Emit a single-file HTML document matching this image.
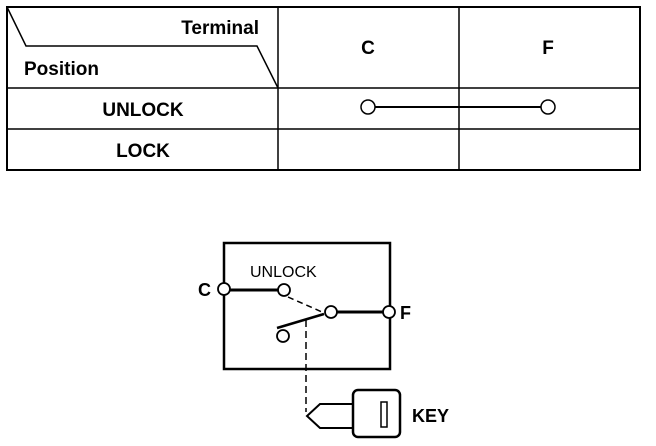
<!DOCTYPE html>
<html><head><meta charset="utf-8"><style>
html,body{margin:0;padding:0;background:#fff;width:656px;height:446px;overflow:hidden}
svg text{font-family:"Liberation Sans",Arial,sans-serif;fill:#000}
</style></head><body>
<svg width="656" height="446" viewBox="0 0 656 446" xmlns="http://www.w3.org/2000/svg">
<g stroke="#000" fill="none">
<rect x="7" y="7" width="633" height="163" stroke-width="2"/>
<line x1="7" y1="88" x2="640" y2="88" stroke-width="1.5"/>
<line x1="7" y1="129" x2="640" y2="129" stroke-width="1.5"/>
<line x1="278" y1="7" x2="278" y2="170" stroke-width="1.5"/>
<line x1="459" y1="7" x2="459" y2="170" stroke-width="1.5"/>
<polyline points="7,7 26,46 257,46 278,88" stroke-width="1.5"/>
<line x1="375" y1="107" x2="541" y2="107" stroke-width="2"/>
<circle cx="368" cy="107" r="7" fill="#fff" stroke-width="1.5"/>
<circle cx="548" cy="107" r="7" fill="#fff" stroke-width="1.5"/>
</g>
<g font-weight="bold" font-size="19">
<text x="259" y="34" text-anchor="end">Terminal</text>
<text x="24" y="75">Position</text>
<text x="368" y="54" text-anchor="middle">C</text>
<text x="548" y="54" text-anchor="middle">F</text>
<text x="143" y="116" text-anchor="middle">UNLOCK</text>
<text x="143" y="157" text-anchor="middle">LOCK</text>
</g>

<g stroke="#000" fill="none">
<rect x="224" y="243" width="166" height="126" stroke-width="2.5"/>
<line x1="230" y1="290" x2="278" y2="290" stroke-width="3"/>
<line x1="336" y1="312" x2="383" y2="312" stroke-width="3"/>
<line x1="277" y1="328" x2="324" y2="314" stroke-width="2.5"/>
<line x1="288" y1="297" x2="322" y2="312" stroke-width="1.5" stroke-dasharray="6,4"/>
<line x1="306" y1="320" x2="306" y2="412" stroke-width="1.5" stroke-dasharray="7,4"/>
<circle cx="224" cy="289" r="6" fill="#fff" stroke-width="1.8"/>
<circle cx="284" cy="290" r="6" fill="#fff" stroke-width="1.8"/>
<circle cx="331" cy="312" r="6" fill="#fff" stroke-width="1.8"/>
<circle cx="389" cy="312" r="6" fill="#fff" stroke-width="1.8"/>
<circle cx="283" cy="336" r="6" fill="#fff" stroke-width="1.8"/>
<polyline points="353,404 320,404 307,416 320,428 353,428" stroke-width="2"/>
<rect x="353" y="390" width="47" height="47" rx="5" fill="#fff" stroke-width="2.5"/>
<rect x="381" y="402" width="6" height="25" stroke-width="1.5"/>
</g>
<text x="250" y="277" font-size="16">UNLOCK</text>
<text x="198" y="296" font-size="18" font-weight="bold">C</text>
<text x="400" y="319" font-size="18" font-weight="bold">F</text>
<text x="412" y="422" font-size="18" font-weight="bold">KEY</text>
</svg>
</body></html>
